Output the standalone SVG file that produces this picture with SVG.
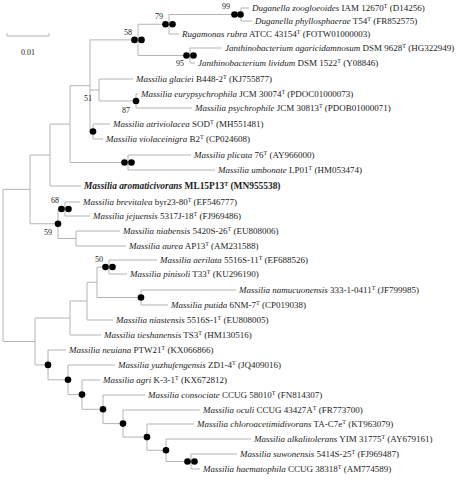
<svg xmlns="http://www.w3.org/2000/svg" width="467" height="484" viewBox="0 0 467 484">
<style>
.c{fill:none;stroke:#b4b4b4;stroke-width:1}
text{font-family:"Liberation Serif","Times New Roman",serif;fill:#222}
.t{font-size:9px}
.i{font-style:italic}
.s{font-size:6px}
.b{font-size:8px}
.d{fill:#000}
.bold{font-weight:bold;font-size:9.4px}
</style>
<rect width="467" height="484" fill="#fff"/>
<g id="connectors" class="c">
<path d="M241 8V21M241 8H249M241 21H252"/>
<path d="M169 14.5V34M169 14.5H241M169 34H179"/>
<path d="M190 48V63M190 48H222M190 63H195"/>
<path d="M138 24.25V55.5M138 24.25H169M138 55.5H190"/>
<path d="M136 94V108M136 94H138M136 108H192"/>
<path d="M99 79V101M99 79H133M99 101H136"/>
<path d="M93 124V139M93 124H110M93 139H103"/>
<path d="M90 39.9V131.5M90 39.9H138M90 90H99M90 131.5H93"/>
<path d="M128 155V170M128 155H191M128 170H215"/>
<path d="M70 85.7V162.5M70 85.7H90M70 162.5H128"/>
<path d="M50 124.1V186M50 124.1H70M50 186H81"/>
<path d="M65 202V216M65 202H80M65 216H90"/>
<path d="M76 231V246M76 231H120M76 246H126"/>
<path d="M58 209V238.5M58 209H65M58 238.5H76"/>
<path d="M30 155V223.75M30 155H50M30 223.75H58"/>
<path d="M109 260V274M109 260H157M109 274H127"/>
<path d="M141 290V305M141 290H236M141 305H168"/>
<path d="M97 267V297.5M97 267H109M97 297.5H141"/>
<path d="M87 282.25V320M87 282.25H97M87 320H113"/>
<path d="M70 301V335M70 301H87M70 335H101"/>
<path d="M191 454V469M191 454H237M191 469H200"/>
<path d="M166 439V461.5M166 439H251M166 461.5H191"/>
<path d="M147 424V450.25M147 424H194M147 450.25H166"/>
<path d="M123 410V437.1M123 410H200M123 437.1H147"/>
<path d="M103 395V423.6M103 395H145M103 423.6H123"/>
<path d="M82 380V409.3M82 380H100M82 409.3H103"/>
<path d="M68 365V394.6M68 365H115M68 394.6H82"/>
<path d="M48 350V379.8M48 350H66M48 379.8H68"/>
<path d="M35 318V364.9M35 318H70M35 364.9H48"/>
<path d="M3 189.4V341.5M3 189.4H30M3 341.5H35"/>
</g>
<g id="scale">
<path class="c" d="M7 33V36H49V33"/>
<text class="b" x="28" y="55" text-anchor="middle">0.01</text>
</g>
<g id="n-dug"><circle class="d" cx="234.5" cy="14.5" r="3.3"/><circle class="d" cx="240.5" cy="14.5" r="3.3"/><text class="b" x="222" y="9">99</text></g>
<g id="n-79"><circle class="d" cx="165.5" cy="24.25" r="3.3"/><circle class="d" cx="172.5" cy="24.25" r="3.3"/><text class="b" x="155" y="19">79</text></g>
<g id="n-58"><circle class="d" cx="134.5" cy="39.9" r="3.3"/><circle class="d" cx="141.5" cy="39.9" r="3.3"/><text class="b" x="124" y="35">58</text></g>
<g id="n-95"><circle class="d" cx="186.5" cy="55.5" r="3.3"/><circle class="d" cx="193.5" cy="55.5" r="3.3"/><text class="b" x="176" y="66">95</text></g>
<g id="n-51"><text class="b" x="84" y="101">51</text></g>
<g id="n-87"><circle class="d" cx="136" cy="101" r="3.3"/><text class="b" x="122" y="113">87</text></g>
<g id="n-atri"><circle class="d" cx="93" cy="131.5" r="3.3"/></g>
<g id="n-plic"><circle class="d" cx="124.5" cy="162.5" r="3.3"/><circle class="d" cx="131.5" cy="162.5" r="3.3"/></g>
<g id="n-68"><circle class="d" cx="61.5" cy="209" r="3.3"/><circle class="d" cx="68.5" cy="209" r="3.3"/><text class="b" x="51" y="203">68</text></g>
<g id="n-59"><circle class="d" cx="58" cy="223.75" r="3.3"/><text class="b" x="44" y="235">59</text></g>
<g id="n-50"><circle class="d" cx="105.5" cy="267" r="3.3"/><circle class="d" cx="112.5" cy="267" r="3.3"/><text class="b" x="95" y="262">50</text></g>
<g id="n-put"><circle class="d" cx="141" cy="297.5" r="3.3"/></g>
<g id="n-neu"><circle class="d" cx="48" cy="364.9" r="3.3"/></g>
<g id="n-yu"><circle class="d" cx="68" cy="379.8" r="3.3"/></g>
<g id="n-agri"><circle class="d" cx="82" cy="394.6" r="3.3"/></g>
<g id="n-cons"><circle class="d" cx="103" cy="409.3" r="3.3"/></g>
<g id="n-ocu"><circle class="d" cx="123" cy="423.6" r="3.3"/></g>
<g id="n-chl"><circle class="d" cx="147" cy="437.1" r="3.3"/></g>
<g id="n-alk"><circle class="d" cx="166" cy="450.25" r="3.3"/></g>
<g id="n-suw"><circle class="d" cx="187.5" cy="461.5" r="3.3"/><circle class="d" cx="194.5" cy="461.5" r="3.3"/></g>

<g id="leaf1"><text class="t" x="252" y="11"><tspan class="i">Duganella zoogloeoides</tspan> IAM 12670<tspan class="s" dy="-3">T</tspan><tspan dy="3"> (D14256)</tspan></text></g>
<g id="leaf2"><text class="t" x="255" y="24"><tspan class="i">Duganella phyllosphaerae</tspan> T54<tspan class="s" dy="-3">T</tspan><tspan dy="3"> (FR852575)</tspan></text></g>
<g id="leaf3"><text class="t" x="182" y="37"><tspan class="i">Rugamonas rubra</tspan> ATCC 43154<tspan class="s" dy="-3">T</tspan><tspan dy="3"> (FOTW01000003)</tspan></text></g>
<g id="leaf4"><text class="t" x="225" y="51"><tspan class="i">Janthinobacterium agaricidamnosum</tspan> DSM 9628<tspan class="s" dy="-3">T</tspan><tspan dy="3"> (HG322949)</tspan></text></g>
<g id="leaf5"><text class="t" x="198" y="66"><tspan class="i">Janthinobacterium lividum</tspan> DSM 1522<tspan class="s" dy="-3">T</tspan><tspan dy="3"> (Y08846)</tspan></text></g>
<g id="leaf6"><text class="t" x="136" y="82"><tspan class="i">Massilia glaciei</tspan> B448-2<tspan class="s" dy="-3">T</tspan><tspan dy="3"> (KJ755877)</tspan></text></g>
<g id="leaf7"><text class="t" x="141" y="97"><tspan class="i">Massilia eurypsychrophila</tspan> JCM 30074<tspan class="s" dy="-3">T</tspan><tspan dy="3"> (PDOC01000073)</tspan></text></g>
<g id="leaf8"><text class="t" x="195" y="111"><tspan class="i">Massilia psychrophile</tspan> JCM 30813<tspan class="s" dy="-3">T</tspan><tspan dy="3"> (PDOB01000071)</tspan></text></g>
<g id="leaf9"><text class="t" x="113" y="127"><tspan class="i">Massilia atriviolacea</tspan> SOD<tspan class="s" dy="-3">T</tspan><tspan dy="3"> (MH551481)</tspan></text></g>
<g id="leaf10"><text class="t" x="106" y="142"><tspan class="i">Massilia violaceinigra</tspan> B2<tspan class="s" dy="-3">T</tspan><tspan dy="3"> (CP024608)</tspan></text></g>
<g id="leaf11"><text class="t" x="194" y="158"><tspan class="i">Massilia plicata</tspan> 76<tspan class="s" dy="-3">T</tspan><tspan dy="3"> (AY966000)</tspan></text></g>
<g id="leaf12"><text class="t" x="218" y="173"><tspan class="i">Massilia umbonate</tspan> LP01<tspan class="s" dy="-3">T</tspan><tspan dy="3"> (HM053474)</tspan></text></g>
<g id="leaf13"><text class="bold" x="84" y="189"><tspan class="i">Massilia aromaticivorans</tspan> ML15P13<tspan class="s" dy="-3">T</tspan><tspan dy="3"> (MN955538)</tspan></text></g>
<g id="leaf14"><text class="t" x="83" y="205"><tspan class="i">Massilia brevitalea</tspan> byr23-80<tspan class="s" dy="-3">T</tspan><tspan dy="3"> (EF546777)</tspan></text></g>
<g id="leaf15"><text class="t" x="93" y="219"><tspan class="i">Massilia jejuensis</tspan> 5317J-18<tspan class="s" dy="-3">T</tspan><tspan dy="3"> (FJ969486)</tspan></text></g>
<g id="leaf16"><text class="t" x="123" y="234"><tspan class="i">Massilia niabensis</tspan> 5420S-26<tspan class="s" dy="-3">T</tspan><tspan dy="3"> (EU808006)</tspan></text></g>
<g id="leaf17"><text class="t" x="129" y="249"><tspan class="i">Massilia aurea</tspan> AP13<tspan class="s" dy="-3">T</tspan><tspan dy="3"> (AM231588)</tspan></text></g>
<g id="leaf18"><text class="t" x="160" y="263"><tspan class="i">Massilia aerilata</tspan> 5516S-11<tspan class="s" dy="-3">T</tspan><tspan dy="3"> (EF688526)</tspan></text></g>
<g id="leaf19"><text class="t" x="130" y="277"><tspan class="i">Massilia pinisoli</tspan> T33<tspan class="s" dy="-3">T</tspan><tspan dy="3"> (KU296190)</tspan></text></g>
<g id="leaf20"><text class="t" x="239" y="293"><tspan class="i">Massilia namucuonensis</tspan> 333-1-0411<tspan class="s" dy="-3">T</tspan><tspan dy="3"> (JF799985)</tspan></text></g>
<g id="leaf21"><text class="t" x="171" y="308"><tspan class="i">Massilia putida</tspan> 6NM-7<tspan class="s" dy="-3">T</tspan><tspan dy="3"> (CP019038)</tspan></text></g>
<g id="leaf22"><text class="t" x="116" y="323"><tspan class="i">Massilia niastensis</tspan> 5516S-1<tspan class="s" dy="-3">T</tspan><tspan dy="3"> (EU808005)</tspan></text></g>
<g id="leaf23"><text class="t" x="104" y="338"><tspan class="i">Massilia tieshanensis</tspan> TS3<tspan class="s" dy="-3">T</tspan><tspan dy="3"> (HM130516)</tspan></text></g>
<g id="leaf24"><text class="t" x="69" y="353"><tspan class="i">Massilia neuiana</tspan> PTW21<tspan class="s" dy="-3">T</tspan><tspan dy="3"> (KX066866)</tspan></text></g>
<g id="leaf25"><text class="t" x="118" y="368"><tspan class="i">Massilia yuzhufengensis</tspan> ZD1-4<tspan class="s" dy="-3">T</tspan><tspan dy="3"> (JQ409016)</tspan></text></g>
<g id="leaf26"><text class="t" x="103" y="383"><tspan class="i">Massilia agri</tspan> K-3-1<tspan class="s" dy="-3">T</tspan><tspan dy="3"> (KX672812)</tspan></text></g>
<g id="leaf27"><text class="t" x="148" y="398"><tspan class="i">Massilia consociate</tspan> CCUG 58010<tspan class="s" dy="-3">T</tspan><tspan dy="3"> (FN814307)</tspan></text></g>
<g id="leaf28"><text class="t" x="203" y="413"><tspan class="i">Massilia oculi</tspan> CCUG 43427A<tspan class="s" dy="-3">T</tspan><tspan dy="3"> (FR773700)</tspan></text></g>
<g id="leaf29"><text class="t" x="197" y="427"><tspan class="i">Massilia chloroacetimidivorans</tspan> TA-C7e<tspan class="s" dy="-3">T</tspan><tspan dy="3"> (KT963079)</tspan></text></g>
<g id="leaf30"><text class="t" x="254" y="442"><tspan class="i">Massilia alkalitolerans</tspan> YIM 31775<tspan class="s" dy="-3">T</tspan><tspan dy="3"> (AY679161)</tspan></text></g>
<g id="leaf31"><text class="t" x="240" y="457"><tspan class="i">Massilia suwonensis</tspan> 5414S-25<tspan class="s" dy="-3">T</tspan><tspan dy="3"> (FJ969487)</tspan></text></g>
<g id="leaf32"><text class="t" x="203" y="472"><tspan class="i">Massilia haematophila</tspan> CCUG 38318<tspan class="s" dy="-3">T</tspan><tspan dy="3"> (AM774589)</tspan></text></g>
</svg>
